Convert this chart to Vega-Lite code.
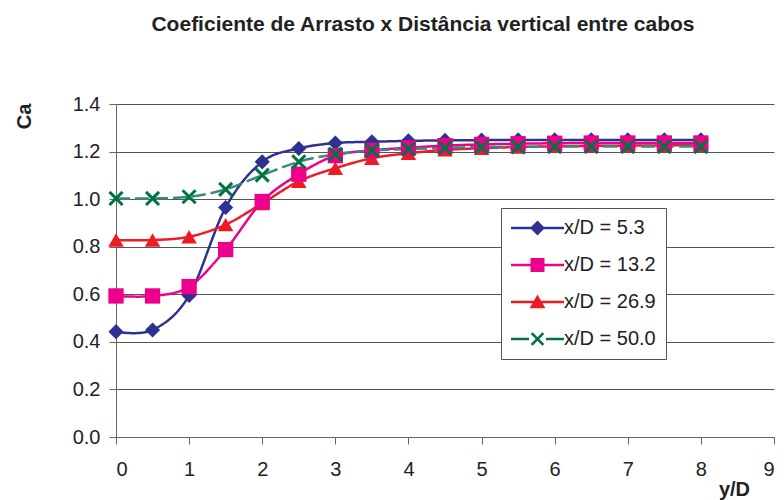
{
  "$schema": "https://vega.github.io/schema/vega-lite/v6.json",
  "width": 658,
  "height": 333,
  "autosize": {"type": "none"},
  "padding": {"left": 116, "top": 104, "right": 10, "bottom": 63},
  "background": "white",
  "title": {
    "text": "Coeficiente de Arrasto x Distância vertical entre cabos",
    "font": "Liberation Sans",
    "fontSize": 21,
    "fontWeight": "bold",
    "color": "#222222",
    "anchor": "middle",
    "frame": "group",
    "dx": -22,
    "baseline": "alphabetic",
    "offset": 42
  },
  "config": {
    "view": {"stroke": null},
    "axis": {
      "labelFont": "Liberation Sans",
      "labelFontSize": 20,
      "labelColor": "#222222",
      "titleFont": "Liberation Sans",
      "titleFontSize": 20,
      "titleFontWeight": "bold",
      "titleColor": "#222222",
      "domainColor": "#666666",
      "tickColor": "#666666",
      "tickSize": 7,
      "gridColor": "#555555",
      "gridWidth": 1
    }
  },
  "data": {
    "values": [
      {"s": "x/D = 5.3", "x": 0, "y": 0.443},
      {"s": "x/D = 5.3", "x": 0.5, "y": 0.45},
      {"s": "x/D = 5.3", "x": 1, "y": 0.595},
      {"s": "x/D = 5.3", "x": 1.5, "y": 0.965},
      {"s": "x/D = 5.3", "x": 2, "y": 1.157},
      {"s": "x/D = 5.3", "x": 2.5, "y": 1.213},
      {"s": "x/D = 5.3", "x": 3, "y": 1.236},
      {"s": "x/D = 5.3", "x": 3.5, "y": 1.241},
      {"s": "x/D = 5.3", "x": 4, "y": 1.245},
      {"s": "x/D = 5.3", "x": 4.5, "y": 1.247},
      {"s": "x/D = 5.3", "x": 5, "y": 1.248},
      {"s": "x/D = 5.3", "x": 5.5, "y": 1.249},
      {"s": "x/D = 5.3", "x": 6, "y": 1.249},
      {"s": "x/D = 5.3", "x": 6.5, "y": 1.249},
      {"s": "x/D = 5.3", "x": 7, "y": 1.249},
      {"s": "x/D = 5.3", "x": 7.5, "y": 1.249},
      {"s": "x/D = 5.3", "x": 8, "y": 1.249},
      {"s": "x/D = 26.9", "x": 0, "y": 0.828},
      {"s": "x/D = 26.9", "x": 0.5, "y": 0.828},
      {"s": "x/D = 26.9", "x": 1, "y": 0.842},
      {"s": "x/D = 26.9", "x": 1.5, "y": 0.893},
      {"s": "x/D = 26.9", "x": 2, "y": 0.982},
      {"s": "x/D = 26.9", "x": 2.5, "y": 1.075},
      {"s": "x/D = 26.9", "x": 3, "y": 1.13},
      {"s": "x/D = 26.9", "x": 3.5, "y": 1.172},
      {"s": "x/D = 26.9", "x": 4, "y": 1.193},
      {"s": "x/D = 26.9", "x": 4.5, "y": 1.207},
      {"s": "x/D = 26.9", "x": 5, "y": 1.214},
      {"s": "x/D = 26.9", "x": 5.5, "y": 1.219},
      {"s": "x/D = 26.9", "x": 6, "y": 1.222},
      {"s": "x/D = 26.9", "x": 6.5, "y": 1.224},
      {"s": "x/D = 26.9", "x": 7, "y": 1.225},
      {"s": "x/D = 26.9", "x": 7.5, "y": 1.226},
      {"s": "x/D = 26.9", "x": 8, "y": 1.226},
      {"s": "x/D = 13.2", "x": 0, "y": 0.593},
      {"s": "x/D = 13.2", "x": 0.5, "y": 0.593},
      {"s": "x/D = 13.2", "x": 1, "y": 0.632},
      {"s": "x/D = 13.2", "x": 1.5, "y": 0.788},
      {"s": "x/D = 13.2", "x": 2, "y": 0.99},
      {"s": "x/D = 13.2", "x": 2.5, "y": 1.105},
      {"s": "x/D = 13.2", "x": 3, "y": 1.183},
      {"s": "x/D = 13.2", "x": 3.5, "y": 1.205},
      {"s": "x/D = 13.2", "x": 4, "y": 1.216},
      {"s": "x/D = 13.2", "x": 4.5, "y": 1.225},
      {"s": "x/D = 13.2", "x": 5, "y": 1.23},
      {"s": "x/D = 13.2", "x": 5.5, "y": 1.233},
      {"s": "x/D = 13.2", "x": 6, "y": 1.235},
      {"s": "x/D = 13.2", "x": 6.5, "y": 1.236},
      {"s": "x/D = 13.2", "x": 7, "y": 1.236},
      {"s": "x/D = 13.2", "x": 7.5, "y": 1.236},
      {"s": "x/D = 13.2", "x": 8, "y": 1.236},
      {"s": "x/D = 50.0", "x": 0, "y": 1.003},
      {"s": "x/D = 50.0", "x": 0.5, "y": 1.003},
      {"s": "x/D = 50.0", "x": 1, "y": 1.01},
      {"s": "x/D = 50.0", "x": 1.5, "y": 1.041},
      {"s": "x/D = 50.0", "x": 2, "y": 1.101},
      {"s": "x/D = 50.0", "x": 2.5, "y": 1.157},
      {"s": "x/D = 50.0", "x": 3, "y": 1.189},
      {"s": "x/D = 50.0", "x": 3.5, "y": 1.204},
      {"s": "x/D = 50.0", "x": 4, "y": 1.211},
      {"s": "x/D = 50.0", "x": 4.5, "y": 1.215},
      {"s": "x/D = 50.0", "x": 5, "y": 1.219},
      {"s": "x/D = 50.0", "x": 5.5, "y": 1.22},
      {"s": "x/D = 50.0", "x": 6, "y": 1.221},
      {"s": "x/D = 50.0", "x": 6.5, "y": 1.221},
      {"s": "x/D = 50.0", "x": 7, "y": 1.221},
      {"s": "x/D = 50.0", "x": 7.5, "y": 1.221},
      {"s": "x/D = 50.0", "x": 8, "y": 1.221}
    ]
  },
  "encoding": {
    "x": {
      "field": "x",
      "type": "quantitative",
      "scale": {"domain": [0, 9], "nice": false},
      "axis": {
        "values": [0, 1, 2, 3, 4, 5, 6, 7, 8, 9],
        "format": "d",
        "grid": false,
        "labelPadding": 15,
        "title": "y/D",
        "titleX": 618,
        "titleY": 58,
        "titleAlign": "center",
        "titleBaseline": "alphabetic"
      }
    },
    "y": {
      "field": "y",
      "type": "quantitative",
      "scale": {"domain": [0, 1.4], "nice": false},
      "axis": {
        "values": [0, 0.2, 0.4, 0.6, 0.8, 1.0, 1.2, 1.4],
        "format": ".1f",
        "grid": true,
        "labelPadding": 9,
        "title": "Ca",
        "titleAngle": 270,
        "titleX": -92,
        "titleY": 12,
        "titleAlign": "center",
        "titleBaseline": "middle"
      }
    }
  },
  "layer": [
    {
      "mark": {"type": "line", "interpolate": "cardinal", "strokeWidth": 2.5},
      "encoding": {
        "color": {
          "field": "s",
          "type": "nominal",
          "scale": {
            "domain": ["x/D = 5.3", "x/D = 13.2", "x/D = 26.9", "x/D = 50.0"],
            "range": ["#2E3192", "#EC008C", "#ED1C24", "#3A8A7B"]
          },
          "legend": {
            "orient": "none",
            "legendX": 385,
            "legendY": 104,
            "title": null,
            "fillColor": "white",
            "strokeColor": "#555555",
            "padding": 10,
            "clipHeight": 20,
            "symbolSize": 2809,
            "symbolStrokeWidth": 0,
            "labelFont": "Liberation Sans",
            "labelFontSize": 20,
            "labelColor": "#222222",
            "labelOffset": 0,
            "rowPadding": 17,
            "encode": {
              "symbols": {
                "update": {
                  "shape": {"signal": "datum.value === 'x/D = 5.3' ? 'M-1,-0.047L1,-0.047L1,0.047L-1,0.047Z M0,-0.283L0.283,0L0,0.283L-0.283,0Z' : datum.value === 'x/D = 13.2' ? 'M-1,-0.047L1,-0.047L1,0.047L-1,0.047Z M-0.264,-0.264L0.264,-0.264L0.264,0.264L-0.264,0.264Z' : datum.value === 'x/D = 26.9' ? 'M-1,-0.047L1,-0.047L1,0.047L-1,0.047Z M0,-0.28L0.3,0.24L-0.3,0.24Z' : 'M-1,-0.047L-0.32,-0.047L-0.32,0.047L-1,0.047Z M0.32,-0.047L1,-0.047L1,0.047L0.32,0.047Z M-0.255,-0.185L-0.185,-0.255L0.255,0.185L0.185,0.255Z M-0.185,0.255L-0.255,0.185L0.185,-0.255L0.255,-0.185Z'"},
                  "fill": {"signal": "datum.value === 'x/D = 5.3' ? '#2E3192' : datum.value === 'x/D = 13.2' ? '#EC008C' : datum.value === 'x/D = 26.9' ? '#ED1C24' : '#00743F'"},
                  "strokeWidth": {"value": 0},
                  "opacity": {"value": 1}
                }
              }
            }
          }
        },
        "strokeDash": {
          "field": "s",
          "type": "nominal",
          "scale": {
            "domain": ["x/D = 5.3", "x/D = 13.2", "x/D = 26.9", "x/D = 50.0"],
            "range": [[1, 0], [1, 0], [1, 0], [14, 5]]
          },
          "legend": null
        }
      }
    },
    {
      "transform": [{"filter": "datum.s !== 'x/D = 50.0'"}],
      "mark": {"type": "point", "filled": true, "opacity": 1, "strokeWidth": 0},
      "encoding": {
        "fill": {
          "field": "s",
          "type": "nominal",
          "scale": {
            "domain": ["x/D = 5.3", "x/D = 13.2", "x/D = 26.9"],
            "range": ["#2E3192", "#EC008C", "#ED1C24"]
          },
          "legend": null
        },
        "shape": {
          "field": "s",
          "type": "nominal",
          "scale": {
            "domain": ["x/D = 5.3", "x/D = 13.2", "x/D = 26.9"],
            "range": ["diamond", "square", "triangle-up"]
          },
          "legend": null
        },
        "size": {
          "field": "s",
          "type": "nominal",
          "scale": {
            "domain": ["x/D = 5.3", "x/D = 13.2", "x/D = 26.9"],
            "range": [230, 240, 260]
          },
          "legend": null
        }
      }
    },
    {
      "transform": [{"filter": "datum.s === 'x/D = 50.0'"}],
      "mark": {
        "type": "point",
        "filled": false,
        "shape": "M-1,-1L1,1M-1,1L1,-1",
        "size": 170,
        "stroke": "#00743F",
        "strokeWidth": 3,
        "opacity": 1
      }
    }
  ]
}
